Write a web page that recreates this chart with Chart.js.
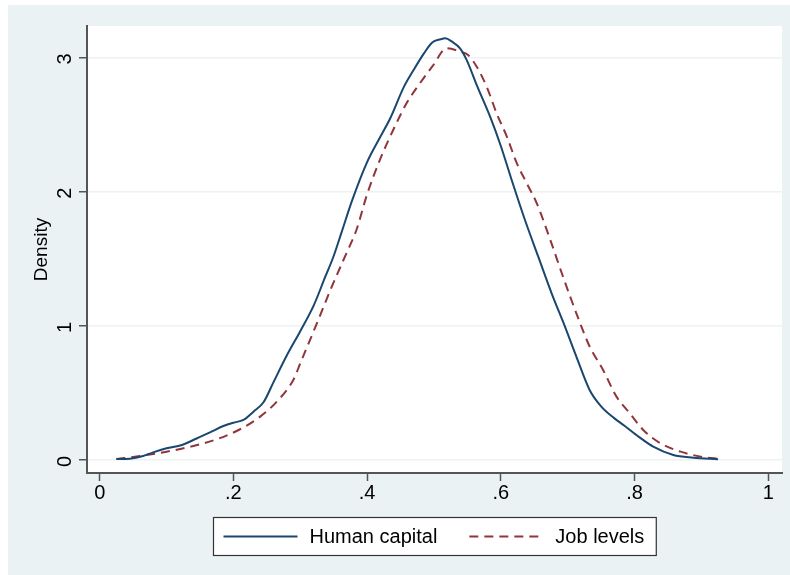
<!DOCTYPE html>
<html>
<head>
<meta charset="utf-8">
<script src="https://cdn.jsdelivr.net/npm/chart.js@4.4.0/dist/chart.umd.min.js"></script>
<style>
html, body { margin: 0; padding: 0; background: #fff; }
canvas { display: block; }
</style>
</head>
<body>
<canvas id="densityGraph" width="790" height="575"></canvas>
<script>
// Density curves, values
const humanCapitalX = [0.025, 0.045, 0.065, 0.08, 0.10, 0.123, 0.145, 0.165, 0.185, 0.20, 0.215, 0.23, 0.245, 0.26, 0.28, 0.30, 0.32, 0.337, 0.35, 0.362, 0.378, 0.40, 0.42, 0.435, 0.455, 0.47, 0.485, 0.497, 0.51, 0.517, 0.527, 0.539, 0.549, 0.564, 0.584, 0.60, 0.616, 0.636, 0.656, 0.676, 0.696, 0.713, 0.733, 0.75, 0.77, 0.785, 0.806, 0.828, 0.858, 0.888, 0.925];
const humanCapitalY = [0.007, 0.01, 0.03, 0.057, 0.087, 0.112, 0.16, 0.206, 0.253, 0.278, 0.298, 0.36, 0.43, 0.58, 0.78, 0.96, 1.15, 1.36, 1.52, 1.70, 1.94, 2.22, 2.41, 2.55, 2.78, 2.91, 3.03, 3.11, 3.135, 3.142, 3.117, 3.068, 2.98, 2.794, 2.558, 2.34, 2.09, 1.79, 1.515, 1.242, 0.993, 0.77, 0.52, 0.40, 0.31, 0.255, 0.174, 0.099, 0.037, 0.017, 0.005];

const jobLevelsX = [0.025, 0.06, 0.10, 0.14, 0.175, 0.21, 0.24, 0.265, 0.29, 0.30, 0.325, 0.347, 0.369, 0.384, 0.40, 0.419, 0.439, 0.459, 0.479, 0.499, 0.519, 0.539, 0.551, 0.564, 0.579, 0.594, 0.609, 0.624, 0.639, 0.654, 0.674, 0.693, 0.713, 0.733, 0.753, 0.773, 0.793, 0.813, 0.839, 0.869, 0.899, 0.929];
const jobLevelsY = [0.007, 0.03, 0.062, 0.104, 0.154, 0.229, 0.323, 0.435, 0.60, 0.72, 1.02, 1.29, 1.54, 1.714, 1.98, 2.235, 2.459, 2.658, 2.807, 2.943, 3.068, 3.043, 3.018, 2.93, 2.78, 2.58, 2.41, 2.21, 2.06, 1.91, 1.64, 1.366, 1.093, 0.844, 0.671, 0.472, 0.348, 0.224, 0.124, 0.062, 0.025, 0.007];

const seriesLabels = ['Human capital', 'Job levels'];
const xTicks = [0, 0.2, 0.4, 0.6, 0.8, 1];
const xTickLabels = ['0', '.2', '.4', '.6', '.8', '1'];
const yTicks = [0, 1, 2, 3];
const yTickLabels = ['0', '1', '2', '3'];

const FONT = 'Liberation Sans, Arial, Helvetica, sans-serif';
const AXIS = '#555555';
const GRID = '#eaf2f3';

// Stata-style graph region: light outer band, white plot region
const stataBackground = {
    id: 'stataBackground',
    beforeDraw(chart) {
        const { ctx, chartArea: a } = chart;
        ctx.save();
        ctx.fillStyle = '#ffffff';
        ctx.fillRect(0, 0, chart.width, chart.height);
        ctx.fillStyle = '#eaf2f3';
        ctx.fillRect(8, 5, chart.width - 8, chart.height - 5);
        ctx.fillStyle = '#ffffff';
        ctx.fillRect(a.left, a.top, a.right - a.left, a.bottom - a.top);
        ctx.restore();
    }
};

// Boxed legend under the plot, centred on the plot region
const boxedLegend = {
    id: 'boxedLegend',
    afterDraw(chart) {
        const { ctx, chartArea: a } = chart;
        const sets = chart.data.datasets;
        ctx.save();
        ctx.font = '20px ' + FONT;
        const sample = 74, gap = 12, spacing = 32, padL = 10, padR = 12;
        let w = padL + padR + spacing * (sets.length - 1);
        sets.forEach(d => { w += sample + gap + ctx.measureText(d.label).width; });
        const h = 38;
        const x0 = Math.round((a.left + a.right) / 2 - w / 2) + 0.5;
        const y0 = 517.5;
        ctx.fillStyle = '#ffffff';
        ctx.fillRect(x0, y0, w, h);
        ctx.strokeStyle = '#333333';
        ctx.lineWidth = 1.2;
        ctx.strokeRect(x0, y0, w, h);
        const cy = y0 + h / 2;
        let x = x0 + padL;
        sets.forEach(d => {
            ctx.beginPath();
            ctx.strokeStyle = d.borderColor;
            ctx.lineWidth = d.borderWidth;
            ctx.setLineDash(d.borderDash || []);
            ctx.moveTo(x, cy);
            ctx.lineTo(x + sample, cy);
            ctx.stroke();
            ctx.setLineDash([]);
            x += sample + gap;
            ctx.fillStyle = '#000000';
            ctx.textBaseline = 'middle';
            ctx.textAlign = 'left';
            ctx.fillText(d.label, x, cy + 1);
            x += ctx.measureText(d.label).width + spacing;
        });
        ctx.restore();
    }
};

const toPoints = (xs, ys) => xs.map((x, i) => ({ x: x, y: ys[i] }));

const ctxDensity = document.getElementById('densityGraph').getContext('2d');
const densityGraph = new Chart(ctxDensity, {
    type: 'line',
    data: {
        datasets: [{
            label: seriesLabels[0],
            data: toPoints(humanCapitalX, humanCapitalY),
            borderColor: '#1a476f',
            borderWidth: 2,
            pointRadius: 0,
            cubicInterpolationMode: 'monotone',
            fill: false
        }, {
            label: seriesLabels[1],
            data: toPoints(jobLevelsX, jobLevelsY),
            borderColor: '#90353b',
            borderWidth: 2,
            borderDash: [9, 6],
            pointRadius: 0,
            cubicInterpolationMode: 'monotone',
            fill: false
        }]
    },
    options: {
        responsive: false,
        animation: false,
        devicePixelRatio: 1,
        layout: { padding: { left: 8, top: 26, right: 8, bottom: 0 } },
        plugins: {
            legend: { display: false },
            tooltip: { enabled: false }
        },
        scales: {
            x: {
                type: 'linear',
                min: -0.019,
                max: 1.0206,
                afterFit: s => { s.height = 102; },
                afterBuildTicks: s => { s.ticks = xTicks.map(v => ({ value: v })); },
                border: { display: true, color: AXIS, width: 2 },
                grid: { drawOnChartArea: false, tickColor: AXIS, tickLength: 8, tickWidth: 1.5 },
                ticks: {
                    color: '#000',
                    font: { family: FONT, size: 20 },
                    padding: 0,
                    maxRotation: 0,
                    callback: (v, i) => xTickLabels[i]
                }
            },
            y: {
                type: 'linear',
                min: -0.097,
                max: 3.234,
                afterFit: s => { s.width = 79; },
                afterBuildTicks: s => { s.ticks = yTicks.map(v => ({ value: v })); },
                border: { display: true, color: AXIS, width: 2 },
                grid: { color: GRID, lineWidth: 1.5, tickColor: AXIS, tickLength: 8, tickWidth: 1.5 },
                ticks: {
                    color: '#000',
                    font: { family: FONT, size: 20 },
                    padding: 14,
                    labelOffset: -4,
                    minRotation: 90,
                    maxRotation: 90,
                    callback: (v, i) => yTickLabels[i]
                },
                title: {
                    display: true,
                    text: 'Density',
                    color: '#000',
                    font: { family: FONT, size: 19 },
                    padding: { top: 22, bottom: 0 }
                }
            }
        }
    },
    plugins: [stataBackground, boxedLegend]
});
</script>
</body>
</html>
